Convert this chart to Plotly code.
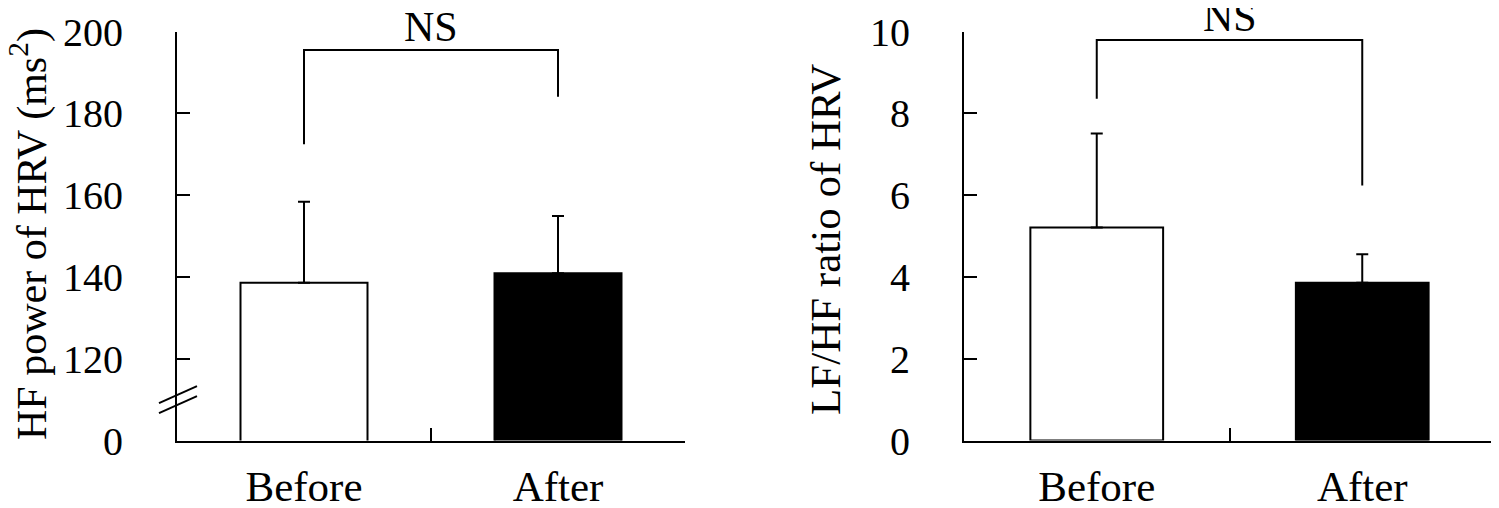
import plotly.graph_objects as go

# ---- data ----
categories = ["Before", "After"]
hf_power = [138.6, 140.9]          # ms^2
hf_power_sd = [19.8, 14.0]
lfhf_ratio = [5.21, 3.86]
lfhf_ratio_sd = [2.30, 0.70]
bar_fill = ["white", "black"]

hf_tickvals = [100, 120, 140, 160, 180, 200]
hf_ticktext = ["0", "120", "140", "160", "180", "200"]
lfhf_tickvals = [0, 2, 4, 6, 8, 10]

# significance brackets: (left end, top, top, right end)
hf_bracket = [172.5, 195.5, 195.5, 184.1]
lfhf_bracket = [8.36, 9.80, 9.80, 6.24]

FONT = "Liberation Serif, Times New Roman, serif"
OFF = 8                      # browser body margin
W, H = 1499 - OFF, 508 - OFF


def px_x(s):
    return (s - OFF) / W


def px_y(s):
    return (H - (s - OFF)) / H


fig = go.Figure()

fig.add_trace(go.Bar(
    x=categories, y=hf_power, xaxis="x", yaxis="y",
    marker=dict(color=bar_fill, line=dict(color="black", width=2)),
    error_y=dict(type="data", symmetric=False, array=hf_power_sd,
                 arrayminus=[0, 0], color="black", thickness=2, width=6),
    width=0.5, showlegend=False))
fig.add_trace(go.Bar(
    x=categories, y=lfhf_ratio, xaxis="x2", yaxis="y2",
    marker=dict(color=bar_fill, line=dict(color="black", width=2)),
    error_y=dict(type="data", symmetric=False, array=lfhf_ratio_sd,
                 arrayminus=[0, 0], color="black", thickness=2, width=6),
    width=0.5, showlegend=False))

bx = [categories[0], categories[0], categories[1], categories[1]]
fig.add_trace(go.Scatter(x=bx, y=hf_bracket, mode="lines", xaxis="x", yaxis="y",
                         line=dict(color="black", width=2), showlegend=False,
                         cliponaxis=False))
fig.add_trace(go.Scatter(x=bx, y=lfhf_bracket, mode="lines", xaxis="x2", yaxis="y2",
                         line=dict(color="black", width=2), showlegend=False,
                         cliponaxis=False))

xd1 = [px_x(177), px_x(685)]
xd2 = [px_x(964), px_x(1495)]
yd = [px_y(440.6), px_y(31.7)]

axis_common = dict(showline=True, linecolor="black", linewidth=2, mirror=False,
                   showgrid=False, zeroline=False, automargin=False)

xcommon = dict(axis_common, type="category", ticks="inside", tickson="boundaries",
               ticklen=13, tickwidth=2, tickcolor="black",
               tickfont=dict(family=FONT, size=43, color="black"),
               ticklabelstandoff=7, range=[-0.5, 1.5])
ycommon = dict(axis_common, ticks="inside", ticklen=13, tickwidth=2, tickcolor="black",
               tickfont=dict(family=FONT, size=40, color="black"),
               ticklabelstandoff=44)

fig.update_layout(
    width=W, height=H,
    margin=dict(l=0, r=0, t=0, b=0, autoexpand=False),
    paper_bgcolor="white", plot_bgcolor="white",
    font=dict(family=FONT, color="black"),
    bargap=0.5,
    xaxis=dict(xcommon, domain=xd1, anchor="y"),
    yaxis=dict(ycommon, domain=yd, anchor="x", range=[100, 200],
               tickvals=hf_tickvals, ticktext=hf_ticktext),
    xaxis2=dict(xcommon, domain=xd2, anchor="y2"),
    yaxis2=dict(ycommon, domain=yd, anchor="x2", range=[0, 10],
                tickvals=lfhf_tickvals),
)

# axis titles
fig.add_annotation(text="HF power of HRV (ms<sup>2</sup>)", textangle=-90,
                   xref="paper", yref="paper", x=px_x(29), y=px_y(234),
                   xanchor="center", yanchor="middle",
                   showarrow=False, font=dict(family=FONT, size=42, color="black"))
fig.add_annotation(text="LF/HF ratio of HRV", textangle=-90,
                   xref="paper", yref="paper", x=px_x(826), y=px_y(240),
                   xanchor="center", yanchor="middle",
                   showarrow=False, font=dict(family=FONT, size=43, color="black"))

# NS labels
fig.add_annotation(text="NS", x=0.5, y=hf_bracket[1], xref="x", yref="y",
                   yanchor="bottom", showarrow=False, yshift=-2,
                   font=dict(family=FONT, size=42, color="black"))
fig.add_annotation(text="NS", x=0.5, y=lfhf_bracket[1], xref="x2", yref="y2",
                   yanchor="bottom", showarrow=False, yshift=-2,
                   font=dict(family=FONT, size=42, color="black"))

# axis-break marks on the left y axis
for dy in (0, -10):
    fig.add_shape(type="line", xref="x domain", yref="y",
                  xsizemode="pixel", ysizemode="pixel", xanchor=0, yanchor=109.9,
                  x0=-18, x1=20, y0=-3 + dy, y1=14 + dy,
                  line=dict(color="black", width=2))

fig.write_html("out.html")
